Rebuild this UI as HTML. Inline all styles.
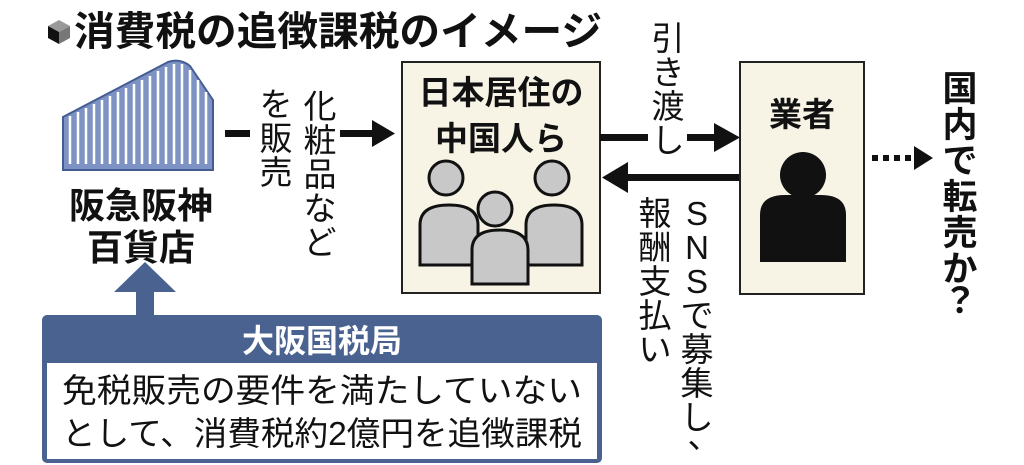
<!DOCTYPE html>
<html><head><meta charset="utf-8"><style>
html,body{margin:0;padding:0;background:#fff;}
svg{display:block;}
text{font-family:"Liberation Sans","Noto Sans CJK JP",sans-serif;fill:#111;}
.b{font-weight:bold;}
</style></head><body>
<svg width="1024" height="465" viewBox="0 0 1024 465" xmlns="http://www.w3.org/2000/svg">
<!-- title icon -->
<polygon points="48,26 59,20 70,26 59,32" fill="#999"/>
<polygon points="48,26 59,32 59,44 48,38" fill="#111"/>
<polygon points="59,32 70,26 70,38 59,44" fill="#777"/>
<text x="74" y="45" font-size="40" class="b" textLength="528" lengthAdjust="spacingAndGlyphs">消費税の追徴課税のイメージ</text>

<!-- building -->
<path d="M63,117 L168,62 Q180,58 190,66 L213,100 L213,170 L63,170 Z" fill="#7f92c4" stroke="#445c94" stroke-width="2"/>
<g stroke="#fff" stroke-width="2.5">
<line x1="70" y1="116" x2="70" y2="164"/><line x1="78" y1="112" x2="78" y2="164"/><line x1="86" y1="108" x2="86" y2="164"/><line x1="94" y1="104" x2="94" y2="164"/><line x1="102" y1="100" x2="102" y2="164"/><line x1="110" y1="96" x2="110" y2="164"/><line x1="118" y1="92" x2="118" y2="164"/><line x1="126" y1="88" x2="126" y2="164"/><line x1="134" y1="84" x2="134" y2="164"/><line x1="142" y1="80" x2="142" y2="164"/><line x1="150" y1="76" x2="150" y2="164"/><line x1="158" y1="71" x2="158" y2="164"/><line x1="166" y1="67" x2="166" y2="164"/><line x1="174" y1="64" x2="174" y2="164"/><line x1="182" y1="64" x2="182" y2="164"/><line x1="190" y1="70" x2="190" y2="164"/><line x1="198" y1="80" x2="198" y2="164"/><line x1="206" y1="92" x2="206" y2="164"/>
</g>
<text x="141" y="218" font-size="36" class="b" text-anchor="middle">阪急阪神</text>
<text x="141" y="260" font-size="36" class="b" text-anchor="middle">百貨店</text>

<!-- sell arrow -->
<rect x="225" y="130" width="25" height="7" fill="#111"/>
<rect x="340" y="130" width="35" height="7" fill="#111"/>
<polygon points="372,120 395,133.5 372,147" fill="#111"/>
<g font-size="33" text-anchor="middle">
<text x="276" y="116">を</text><text x="276" y="150">販</text><text x="276" y="184">売</text>
<text x="320" y="118">化</text><text x="320" y="152">粧</text><text x="320" y="186">品</text><text x="320" y="220">な</text><text x="320" y="254">ど</text>
</g>

<!-- box 1 -->
<rect x="402" y="62" width="198" height="231" fill="#f7f4e6" stroke="#222" stroke-width="2"/>
<text x="501" y="104" font-size="33" class="b" text-anchor="middle">日本居住の</text>
<text x="501" y="150" font-size="33" class="b" text-anchor="middle">中国人ら</text>
<g fill="#c8c8c8" stroke="#111" stroke-width="3">
<path d="M420,265 L420,225 Q420,205 449,205 Q478,205 478,225 L478,265 Z"/>
<circle cx="446" cy="178" r="17"/>
<path d="M526,265 L526,225 Q526,205 554,205 Q582,205 582,225 L582,265 Z"/>
<circle cx="552" cy="178" r="17"/>
<circle cx="495" cy="209" r="17"/>
<path d="M472,284 L472,250 Q472,230 500,230 Q528,230 528,250 L528,284 Z"/>
</g>

<!-- transfer arrows -->
<rect x="600" y="134" width="48" height="7" fill="#111"/>
<rect x="687" y="134" width="30" height="7" fill="#111"/>
<polygon points="714,123 740,137.5 714,152" fill="#111"/>
<rect x="625" y="174" width="115" height="7" fill="#111"/>
<polygon points="628,162 602,177.5 628,193" fill="#111"/>
<g font-size="33" text-anchor="middle">
<text x="668" y="50">引</text><text x="668" y="84">き</text><text x="668" y="118">渡</text><text x="668" y="152">し</text>
<text x="697" y="225">S</text><text x="697" y="259">N</text><text x="697" y="293">S</text><text x="697" y="327">で</text><text x="697" y="361">募</text><text x="697" y="395">集</text><text x="697" y="429">し</text><text x="704" y="448">、</text>
<text x="655" y="225">報</text><text x="655" y="259">酬</text><text x="655" y="293">支</text><text x="655" y="327">払</text><text x="655" y="361">い</text>
</g>

<!-- box 2 -->
<rect x="740" y="62" width="124" height="232" fill="#f7f4e6" stroke="#222" stroke-width="2"/>
<text x="802" y="126" font-size="33" class="b" text-anchor="middle">業者</text>
<circle cx="803" cy="175" r="23" fill="#111"/>
<path d="M760,262 L760,215 Q760,195 785,195 L821,195 Q846,195 846,215 L846,262 Z" fill="#111"/>

<!-- dotted arrow -->
<g fill="#111"><rect x="872" y="155" width="6" height="6"/><rect x="883" y="155" width="6" height="6"/><rect x="894" y="155" width="6" height="6"/><rect x="905" y="155" width="6" height="6"/>
<polygon points="914,146 933,158 914,170"/></g>
<g font-size="35" class="b" text-anchor="middle">
<text x="960" y="101">国</text><text x="960" y="137">内</text><text x="960" y="173">で</text><text x="960" y="209">転</text><text x="960" y="245">売</text><text x="960" y="281">か</text><text x="960" y="313">？</text>
</g>

<!-- up arrow -->
<polygon points="145,262 176,292 154,292 154,318 136,318 136,292 114,292" fill="#4a6290"/>

<!-- tax bureau box -->
<rect x="42" y="315" width="560" height="148" rx="5" fill="#4a6290"/>
<rect x="47" y="363" width="550" height="96" fill="#fff"/>
<text x="322" y="352" font-size="32" class="b" text-anchor="middle" style="fill:#fff">大阪国税局</text>
<text x="322" y="402" font-size="33" text-anchor="middle" textLength="520" lengthAdjust="spacingAndGlyphs">免税販売の要件を満たしていない</text>
<text x="322" y="445" font-size="33" text-anchor="middle" textLength="520" lengthAdjust="spacingAndGlyphs">として、消費税約2億円を追徴課税</text>
</svg>
</body></html>
